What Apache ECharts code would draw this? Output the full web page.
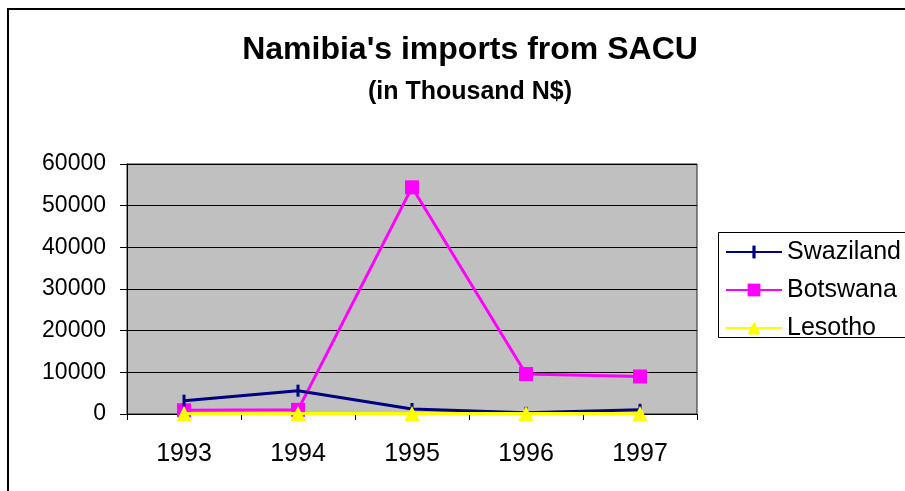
<!DOCTYPE html>
<html>
<head>
<meta charset="utf-8">
<script src="https://cdn.jsdelivr.net/npm/echarts@6/dist/echarts.min.js"></script>
<style>
html,body{margin:0;padding:0;background:#fff;}
#c{width:905px;height:491px;}
</style>
</head>
<body>
<div id="c"></div>
<script>
var years = ['1993', '1994', '1995', '1996', '1997'];
var swaziland = [3200, 5600, 1200, 300, 1000];
var botswana = [900, 1000, 54400, 9600, 9000];
var lesotho = [100, 100, 100, 100, 100];
var yTicks = [0, 10000, 20000, 30000, 40000, 50000, 60000];

var FONT = '"Liberation Sans", Arial, sans-serif';
var BAR = 'path://M0,0 M12,12 M4.5,0 L7.5,0 L7.5,12 L4.5,12 Z';
var chart = echarts.init(document.getElementById('c'), null, {renderer: 'canvas'});
chart.setOption({
  animation: false,
  backgroundColor: '#fff',
  title: [
    {text: "Namibia's imports from SACU", left: 465, top: 29, textAlign: 'center',
     textStyle: {fontFamily: FONT, fontWeight: 'bold', fontSize: 32, color: '#000'}},
    {text: '(in Thousand N$)', left: 465, top: 75, textAlign: 'center',
     textStyle: {fontFamily: FONT, fontWeight: 'bold', fontSize: 25, color: '#000'}}
  ],
  graphic: [
    {type: 'rect', shape: {x: 8, y: 9, width: 1000, height: 1000},
     style: {fill: 'none', stroke: '#000', lineWidth: 2}, z: 100},
    {type: 'rect', shape: {x: 718.5, y: 232.5, width: 300, height: 105},
     style: {fill: '#fff', stroke: '#000', lineWidth: 1}, z: 0}
  ],
  legend: {
    left: 720, top: 233, orient: 'vertical',
    itemWidth: 56, itemHeight: 16, itemGap: 10,
    textStyle: {fontFamily: FONT, fontSize: 25, color: '#000', lineHeight: 28},
    data: ['Swaziland', 'Botswana', 'Lesotho']
  },
  grid: {left: 127, top: 164, width: 570, height: 250, show: true,
         backgroundColor: '#c0c0c0', borderColor: '#222', borderWidth: 1},
  xAxis: {
    type: 'category', data: years, boundaryGap: true,
    axisLine: {show: true, lineStyle: {color: '#000', width: 1}},
    axisTick: {show: true, length: 6, lineStyle: {color: '#000'}},
    axisLabel: {fontFamily: FONT, fontSize: 25, color: '#000', margin: 28}
  },
  yAxis: {
    type: 'value', min: 0, max: 60000, interval: 10000,
    axisLine: {show: true, lineStyle: {color: '#000', width: 1}},
    axisTick: {show: true, length: 7, lineStyle: {color: '#000'}},
    axisLabel: {fontFamily: FONT, fontSize: 23, color: '#000', margin: 21,
      formatter: function (v) { return yTicks.indexOf(v) >= 0 ? String(v) : ''; }},
    splitLine: {show: true, lineStyle: {color: '#000', width: 1}}
  },
  series: [
    {name: 'Swaziland', type: 'line', data: swaziland, z: 4,
     symbol: BAR, symbolSize: 12, showAllSymbol: true,
     itemStyle: {color: '#000080', borderWidth: 0}, lineStyle: {color: '#000080', width: 3}},
    {name: 'Botswana', type: 'line', data: botswana, z: 3,
     symbol: 'rect', symbolSize: 14, showAllSymbol: true,
     itemStyle: {color: '#ff00ff'}, lineStyle: {color: '#ff00ff', width: 3}},
    {name: 'Lesotho', type: 'line', data: lesotho, z: 5,
     symbol: 'triangle', symbolSize: 15, showAllSymbol: true,
     itemStyle: {color: '#ffff00'}, lineStyle: {color: '#ffff00', width: 3}}
  ]
});
</script>
</body>
</html>
